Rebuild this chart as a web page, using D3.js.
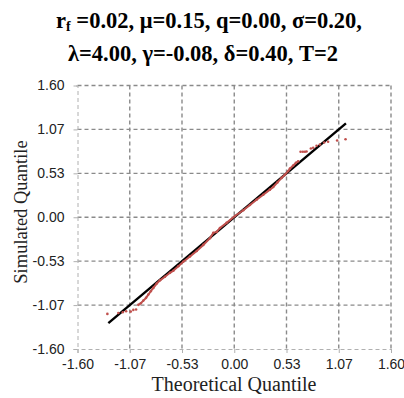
<!DOCTYPE html>
<html>
<head>
<meta charset="utf-8">
<script src="https://cdn.jsdelivr.net/npm/d3@7"></script>
<style>
  html, body { margin: 0; padding: 0; background: #fff; }
  svg { display: block; }
</style>
</head>
<body>
<svg id="chart" width="404" height="398"></svg>
<script>
// Tick values shared by both axes
const tickValues = [-1.6, -1.6 * 2 / 3, -1.6 / 3, 0, 1.6 / 3, 1.6 * 2 / 3, 1.6];
const tickLabels = ["-1.60", "-1.07", "-0.53", "0.00", "0.53", "1.07", "1.60"];

// Reference line: simulated = theoretical over the theoretical range
const refQuantiles = [-1.285, 1.14];

// Q-Q points: theoretical quantile and simulated quantile
const theoretical = [
  -1.295, -1.183, -1.138, -1.104, -1.056, -1.030, -1.002, -0.979, -0.954, -0.928,
  -0.900, -0.877, -0.852, -0.826, -0.791, -0.758, -0.707, -0.656, -0.622, -0.571,
  -0.520, -0.452, -0.383, -0.316, -0.248, -0.214, -0.179, -0.146, -0.078, 0.007,
  0.092, 0.160, 0.228, 0.296, 0.364, 0.398, 0.440, 0.483, 0.517, 0.551,
  0.568, 0.602, 0.629, 0.653, 0.677, 0.700, 0.721, 0.738, 0.782, 0.806,
  0.840, 0.874, 0.918, 0.958, 1.050, 1.136
];
const simulated = [
  -1.174, -1.162, -1.154, -1.142, -1.146, -1.125, -1.121, -1.064, -1.045, -1.012,
  -0.979, -0.939, -0.899, -0.858, -0.805, -0.766, -0.722, -0.675, -0.650, -0.595,
  -0.540, -0.476, -0.410, -0.336, -0.255, -0.190, -0.178, -0.130, -0.068, 0.015,
  0.085, 0.148, 0.212, 0.274, 0.335, 0.368, 0.422, 0.478, 0.515, 0.562,
  0.590, 0.628, 0.660, 0.680, 0.795, 0.795, 0.795, 0.798, 0.835, 0.843,
  0.868, 0.883, 0.908, 0.916, 0.932, 0.948
];
// The dense run of points between these theoretical values overlaps into a band
const denseFrom = -0.98, denseTo = 0.66;

const svg = d3.select("#chart");
const plotLeft = 77.5, plotRight = 391, plotTop = 85.5, plotBottom = 349;

const x = d3.scaleLinear().domain([-1.6, 1.6]).range([plotLeft, plotRight]);
const y = d3.scaleLinear().domain([-1.6, 1.6]).range([plotBottom, plotTop]);

const serif = "'Liberation Serif', 'Times New Roman', serif";

// Title
const title = svg.append("text")
  .attr("x", 209).attr("y", 28)
  .attr("text-anchor", "middle")
  .attr("font-family", serif)
  .attr("font-weight", "bold").attr("font-size", 22.5).attr("fill", "#000");
title.append("tspan").text("r");
title.append("tspan").attr("font-size", 14).attr("dy", 3).text("f");
title.append("tspan").attr("dy", -3).text(" =0.02, μ=0.15, q=0.00, σ=0.20,");
svg.append("text")
  .attr("x", 203).attr("y", 61)
  .attr("text-anchor", "middle")
  .attr("font-family", serif)
  .attr("font-weight", "bold").attr("font-size", 22.5).attr("fill", "#000")
  .text("λ=4.00, γ=-0.08, δ=0.40, T=2");

// Gridlines
const grid = svg.append("g");
grid.selectAll("line.h").data(tickValues.slice(1)).join("line")
  .attr("x1", plotLeft).attr("x2", plotRight)
  .attr("y1", d => y(d)).attr("y2", d => y(d))
  .attr("stroke", "#8a8a8a").attr("stroke-width", 1.4).attr("stroke-dasharray", "4,3");
grid.selectAll("line.v").data(tickValues.slice(1)).join("line")
  .attr("y1", plotTop).attr("y2", plotBottom)
  .attr("x1", d => x(d)).attr("x2", d => x(d))
  .attr("stroke", "#8a8a8a").attr("stroke-width", 1.4).attr("stroke-dasharray", "4,3");

// Axes
const xAxis = d3.axisBottom(x).tickValues(tickValues)
  .tickFormat((d, i) => tickLabels[i]).tickSize(4).tickPadding(6);
const yAxis = d3.axisLeft(y).tickValues(tickValues)
  .tickFormat((d, i) => tickLabels[i]).tickSize(4).tickPadding(9);

const gx = svg.append("g").attr("transform", `translate(0,${plotBottom})`).call(xAxis);
const gy = svg.append("g").attr("transform", `translate(${plotLeft},0)`).call(yAxis);
[gx, gy].forEach(g => {
  g.select(".domain").attr("stroke", "#b0b0b0").attr("stroke-dasharray", "4,3");
  g.selectAll(".tick line").attr("stroke", "#b0b0b0");
  g.selectAll(".tick text")
    .attr("font-family", "'Liberation Sans', Arial, sans-serif")
    .attr("font-size", 14).attr("fill", "#222");
});

// Reference line
svg.append("line")
  .attr("x1", x(refQuantiles[0])).attr("y1", y(refQuantiles[0]))
  .attr("x2", x(refQuantiles[1])).attr("y2", y(refQuantiles[1]))
  .attr("stroke", "#000").attr("stroke-width", 2.4);

// Simulated points
const points = theoretical.map((t, i) => ({ t, s: simulated[i] }));
const dense = points.filter(p => p.t >= denseFrom && p.t <= denseTo);
svg.append("path")
  .datum(dense)
  .attr("d", d3.line().x(p => x(p.t)).y(p => y(p.s)))
  .attr("fill", "none").attr("stroke", "#c0504d").attr("stroke-width", 2);
svg.append("g").selectAll("circle").data(points).join("circle")
  .attr("cx", p => x(p.t)).attr("cy", p => y(p.s)).attr("r", 1.3)
  .attr("fill", "#c0504d");

// Axis titles
svg.append("text")
  .attr("x", 234).attr("y", 391)
  .attr("text-anchor", "middle")
  .attr("font-family", serif)
  .attr("font-size", 20).attr("fill", "#222")
  .text("Theoretical Quantile");
svg.append("text")
  .attr("transform", "translate(27,212) rotate(-90)")
  .attr("text-anchor", "middle")
  .attr("font-family", serif)
  .attr("font-size", 18.5).attr("fill", "#222")
  .text("Simulated Quantile");
</script>
</body>
</html>
